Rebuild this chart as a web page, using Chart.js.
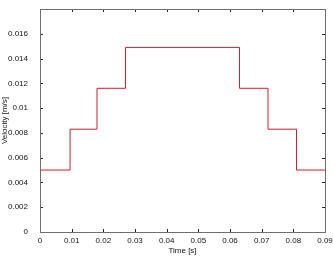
<!DOCTYPE html>
<html lang="en">
<head>
<meta charset="UTF-8">
<title>Velocity profile</title>
<script src="https://cdn.jsdelivr.net/npm/chart.js"></script>
<style>
  html, body { margin: 0; padding: 0; background: #fff; }
  #wrap { width: 333px; height: 264px; }
</style>
</head>
<body>
<div id="wrap"><canvas id="chart" width="333" height="264"></canvas></div>
<script>
// step start times [s] and the velocity held from each time on [m/s]
const stepTimes = [0, 0.0095, 0.018, 0.027, 0.063, 0.072, 0.081, 0.09];
const velocities = [0.005, 0.0083, 0.0116, 0.0149, 0.0116, 0.0083, 0.005, 0.005];
const xTicks = [0, 0.01, 0.02, 0.03, 0.04, 0.05, 0.06, 0.07, 0.08, 0.09];
const yTicks = [0, 0.002, 0.004, 0.006, 0.008, 0.01, 0.012, 0.014, 0.016];

const axisGrey = '#6e6e6e';
const fontSpec = { family: 'Liberation Sans, Arial, sans-serif', size: 8 };

// inward tick marks on all four sides, matlab style
const boxTicks = {
  id: 'boxTicks',
  afterDraw(chart) {
    const { ctx, chartArea: a, scales } = chart;
    ctx.save();
    ctx.strokeStyle = '#222';
    ctx.lineWidth = 1;
    ctx.beginPath();
    xTicks.forEach(v => {
      const px = Math.round(scales.x.getPixelForValue(v)) + 0.5;
      ctx.moveTo(px, a.bottom); ctx.lineTo(px, a.bottom - 3);
      ctx.moveTo(px, a.top); ctx.lineTo(px, a.top + 3);
    });
    yTicks.forEach(v => {
      const py = Math.round(scales.y.getPixelForValue(v)) + 0.5;
      ctx.moveTo(a.left, py); ctx.lineTo(a.left + 3, py);
      ctx.moveTo(a.right, py); ctx.lineTo(a.right - 3, py);
    });
    ctx.stroke();
    ctx.strokeStyle = axisGrey;
    ctx.strokeRect(Math.round(a.left) + 0.5, Math.round(a.top) + 0.5,
      Math.round(a.right - a.left), Math.round(a.bottom - a.top));
    ctx.restore();
  }
};

new Chart(document.getElementById('chart'), {
  type: 'scatter',
  data: {
    datasets: [{
      data: stepTimes.map((t, i) => ({ x: t, y: velocities[i] })),
      showLine: true,
      stepped: 'before',
      borderColor: '#c8202c',
      borderWidth: 1,
      pointRadius: 0,
      fill: false
    }]
  },
  options: {
    responsive: false,
    animation: false,
    layout: { padding: { top: 9, right: 8, left: 0, bottom: 0 } },
    plugins: { legend: { display: false }, tooltip: { enabled: false } },
    scales: {
      x: {
        type: 'linear', min: 0, max: 0.09,
        afterBuildTicks: s => { s.ticks = xTicks.map(v => ({ value: v })); },
        afterFit: s => { s.height = 32; s.paddingLeft = 0; s.paddingRight = 0; },
        grid: { display: false, drawTicks: false },
        border: { display: false },
        ticks: {
          color: '#111', font: fontSpec, padding: 4, maxRotation: 0, autoSkip: false,
          callback: v => v === 0 ? '0' : String(Number(v.toFixed(3)))
        },
        title: { display: true, text: 'Time [s]', color: '#111', font: fontSpec, padding: { top: 0, bottom: 8 } }
      },
      y: {
        type: 'linear', min: 0, max: 0.018,
        afterBuildTicks: s => { s.ticks = yTicks.map(v => ({ value: v })); },
        afterFit: s => { s.width = 40; s.paddingTop = 0; s.paddingBottom = 0; },
        grid: { display: false },
        border: { display: false },
        ticks: {
          color: '#111', font: fontSpec, padding: 4, autoSkip: false,
          callback: v => v === 0 ? '0' : String(Number(v.toFixed(3)))
        },
        title: { display: true, text: 'Velocity [m/s]', color: '#111', font: fontSpec, padding: { top: 0, bottom: 2 } }
      }
    }
  },
  plugins: [boxTicks]
});
</script>
</body>
</html>
